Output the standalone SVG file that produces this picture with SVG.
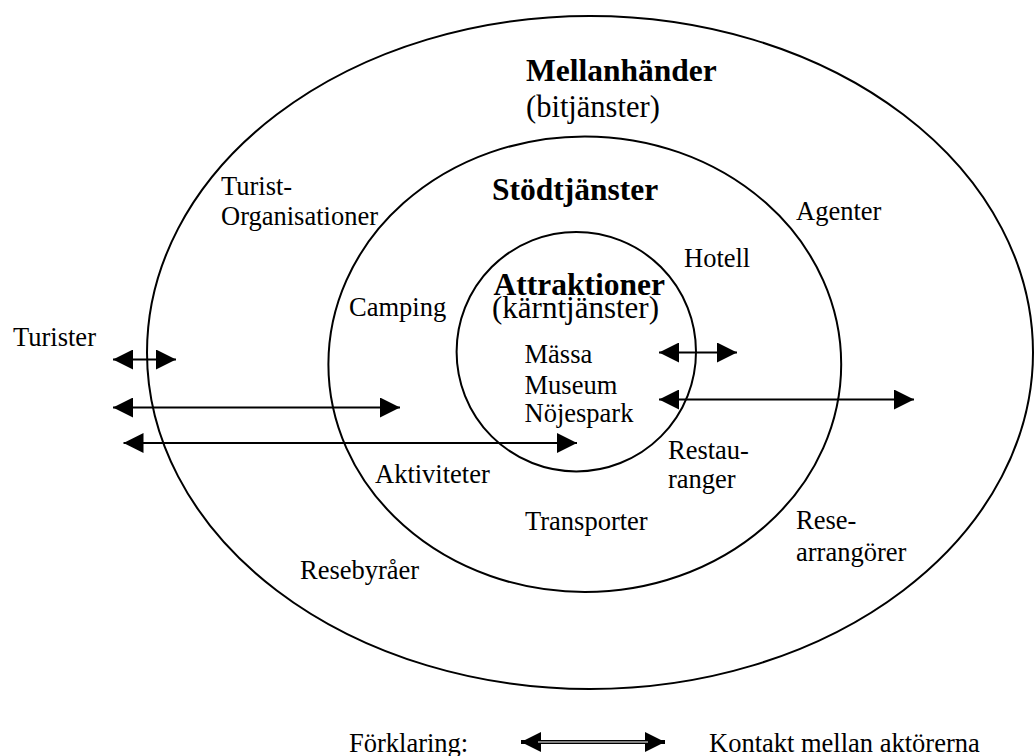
<svg xmlns="http://www.w3.org/2000/svg" width="1035" height="756" viewBox="0 0 1035 756">
<style>
  .ring { fill: none; stroke: #000; stroke-width: 2; }
  .t { font-family: "Liberation Serif", "Times New Roman", serif; font-size: 26.5px; fill: #000; }
  .h { font-weight: bold; font-size: 31.5px; }
  .s { font-size: 31px; }
  .conn { stroke: #000; stroke-width: 2; fill: none; marker-start: url(#head); marker-end: url(#head); }
</style>
<defs>
  <marker id="head" markerUnits="userSpaceOnUse" markerWidth="20" markerHeight="20" refX="20" refY="10" orient="auto-start-reverse" viewBox="0 0 20 20">
    <path d="M0,0 L20,10 L0,20 z" fill="#000"/>
  </marker>
</defs>
<rect width="1035" height="756" fill="#fff"/>
<g id="mellanhander">
  <ellipse class="ring" cx="590" cy="352.5" rx="443" ry="336.5"/>
  <text class="t h" x="526" y="81">Mellanhänder</text>
  <text class="t" x="526" y="117" style="font-size:30.5px">(bitjänster)</text>
  <text class="t" x="221" y="195">Turist-</text>
  <text class="t" x="221" y="225">Organisationer</text>
  <text class="t" x="796" y="219.5">Agenter</text>
  <text class="t" x="796" y="529">Rese-</text>
  <text class="t" x="796" y="560.5">arrangörer</text>
  <text class="t" x="300" y="579">Resebyråer</text>
</g>
<g id="stodtjanster">
  <ellipse class="ring" cx="584.8" cy="364.2" rx="256.4" ry="227.8"/>
  <text class="t h" x="492" y="199.5">Stödtjänster</text>
  <text class="t" x="684" y="267">Hotell</text>
  <text class="t" x="349" y="316">Camping</text>
  <text class="t" x="668" y="459">Restau-</text>
  <text class="t" x="668" y="488">ranger</text>
  <text class="t" x="375" y="483">Aktiviteter</text>
  <text class="t" x="525" y="530">Transporter</text>
</g>
<g id="attraktioner">
  <ellipse class="ring" cx="576.3" cy="351.7" rx="119.7" ry="119.7"/>
  <text class="t h" x="493.5" y="295">Attraktioner</text>
  <text class="t s" x="492" y="318">(kärntjänster)</text>
  <text class="t" x="524.5" y="362.5">Mässa</text>
  <text class="t" x="524.5" y="394">Museum</text>
  <text class="t" x="524.5" y="422">Nöjespark</text>
</g>
<g id="turister">
  <text class="t" x="13" y="346">Turister</text>
</g>
<g id="connectors">
  <line class="conn" x1="113" y1="359.5" x2="176" y2="359.5"/>
  <line class="conn" x1="113" y1="407.5" x2="400" y2="407.5"/>
  <line class="conn" x1="123.5" y1="443" x2="577" y2="443"/>
  <line class="conn" x1="659" y1="352.5" x2="737" y2="352.5"/>
  <line class="conn" x1="659" y1="399.5" x2="914" y2="399.5"/>
</g>
<g id="legend">
  <text class="t" x="349" y="752">Förklaring:</text>
  <line class="conn" x1="521" y1="742" x2="665" y2="742" style="stroke-width:4"/>
  <line x1="538" y1="742" x2="648" y2="742" stroke="#fff" stroke-width="1.2"/>
  <text class="t" x="709" y="752">Kontakt mellan aktörerna</text>
</g>
</svg>
